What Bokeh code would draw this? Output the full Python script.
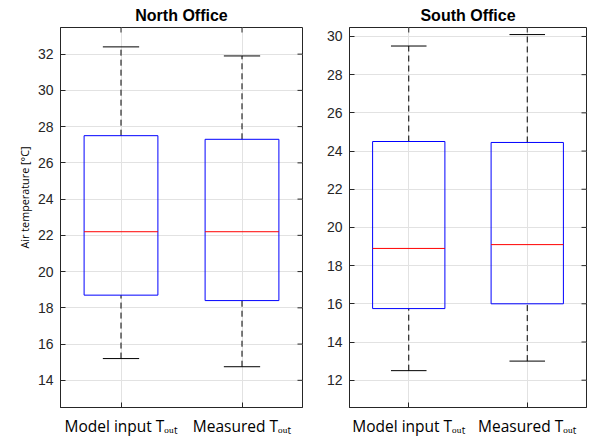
import math

from bokeh.embed import file_html
from bokeh.layouts import row
from bokeh.models import ColumnDataSource, FixedTicker, Range1d, Title
from bokeh.plotting import figure
from bokeh.resources import INLINE

# ---- data -------------------------------------------------------------
categories = ["Model input", "Measured"]
positions = [1, 2]

north_lower = [15.2, 14.75]
north_q1 = [18.7, 18.4]
north_median = [22.2, 22.2]
north_q3 = [27.5, 27.3]
north_upper = [32.4, 31.9]

south_lower = [12.5, 13.0]
south_q1 = [15.75, 16.0]
south_median = [18.9, 19.1]
south_q3 = [24.5, 24.45]
south_upper = [29.5, 30.1]

north_ticks = [14, 16, 18, 20, 22, 24, 26, 28, 30, 32]
south_ticks = [12, 14, 16, 18, 20, 22, 24, 26, 28, 30]

# subscript "out" written with Unicode subscript letters
SUB_OUT = "\u2092\u1d64\u209c"

# ---- style ------------------------------------------------------------
BOX_W = 0.61
CAP_W = 0.30
AX_COLOR = "#262626"
GRID_COLOR = "#e2e2e2"
TICK_FONT = "Liberation Sans"
LABEL_FONT = "Open Sans"


def box_panel(title, lower, q1, median, q3, upper, ticks, y_lim, width,
              border_left, border_right, ylabel=None):
    x_lim = (0.5, 2.5)
    p = figure(width=width, height=443, output_backend="svg",
               toolbar_location=None, x_range=Range1d(*x_lim),
               y_range=Range1d(*y_lim),
               min_border_left=border_left, min_border_right=border_right,
               min_border_top=27, min_border_bottom=36)
    p.background_fill_color = "white"
    p.border_fill_color = "white"
    p.outline_line_color = AX_COLOR
    p.outline_line_width = 1

    p.title.text = title
    p.title.align = "center"
    p.title.text_font = "Liberation Sans"
    p.title.text_font_size = "16px"
    p.title.text_font_style = "bold"
    p.title.text_color = "black"
    p.title.standoff = 8

    # axes: ticks point inward, as on a boxed frame
    p.yaxis.ticker = FixedTicker(ticks=ticks)
    p.xaxis.ticker = FixedTicker(ticks=positions)
    for ax in (p.xaxis, p.yaxis):
        ax.major_tick_in = 5
        ax.major_tick_out = 0
        ax.minor_tick_line_color = None
        ax.axis_line_color = AX_COLOR
        ax.major_tick_line_color = AX_COLOR
    p.yaxis.major_label_text_font = TICK_FONT
    p.yaxis.major_label_text_font_size = "14px"
    p.yaxis.major_label_text_color = AX_COLOR
    p.yaxis.major_label_standoff = 7

    p.xaxis.major_label_overrides = {
        pos: f"{cat} T{SUB_OUT}" for pos, cat in zip(positions, categories)
    }
    p.xaxis.major_label_text_font = LABEL_FONT
    p.xaxis.major_label_text_font_size = "15.5px"
    p.xaxis.major_label_text_color = "black"
    p.xaxis.major_label_standoff = 7

    if ylabel:
        p.add_layout(Title(text=ylabel, align="left", offset=159, standoff=6,
                           text_font=LABEL_FONT, text_font_size="10.8px",
                           text_font_style="normal", text_color="black"),
                     "left")

    p.xgrid.ticker = FixedTicker(ticks=positions)
    p.ygrid.ticker = FixedTicker(ticks=ticks)
    p.xgrid.grid_line_color = GRID_COLOR
    p.ygrid.grid_line_color = GRID_COLOR

    # mirrored inward ticks on the right and top edges (half of each dash
    # falls outside the frame and is clipped away)
    p.scatter(x=[x_lim[1]] * len(ticks), y=ticks, marker="dash", size=10,
              line_color=AX_COLOR, line_width=1)
    p.scatter(x=positions, y=[y_lim[1]] * len(positions), marker="dash",
              angle=math.pi / 2, size=10, line_color=AX_COLOR, line_width=1)

    src = ColumnDataSource(dict(
        x=positions,
        box_l=[x - BOX_W / 2 for x in positions],
        box_r=[x + BOX_W / 2 for x in positions],
        cap_l=[x - CAP_W / 2 for x in positions],
        cap_r=[x + CAP_W / 2 for x in positions],
        lower=lower, q1=q1, median=median, q3=q3, upper=upper,
    ))

    # whiskers (dashed) and caps
    p.segment(x0="x", y0="q3", x1="x", y1="upper", source=src,
              line_color="black", line_width=1, line_dash="6 4")
    p.segment(x0="x", y0="lower", x1="x", y1="q1", source=src,
              line_color="black", line_width=1, line_dash="6 4")
    p.segment(x0="cap_l", y0="upper", x1="cap_r", y1="upper", source=src,
              line_color="black", line_width=1)
    p.segment(x0="cap_l", y0="lower", x1="cap_r", y1="lower", source=src,
              line_color="black", line_width=1)

    # interquartile boxes and medians
    p.vbar(x="x", width=BOX_W, bottom="q1", top="q3", source=src,
           fill_color=None, line_color="#0000ff", line_width=1)
    p.segment(x0="box_l", y0="median", x1="box_r", y1="median", source=src,
              line_color="#ff0000", line_width=1)
    return p


north = box_panel("North Office", north_lower, north_q1, north_median,
                  north_q3, north_upper, north_ticks, (12.5, 33.47),
                  320, 60, 18, ylabel="Air temperature [°C]")
south = box_panel("South Office", south_lower, south_q1, south_median,
                  south_q3, south_upper, south_ticks, (10.57, 30.47),
                  279, 29, 13)

layout = row(north, south)
open("out.html", "w").write(file_html(layout, INLINE))
